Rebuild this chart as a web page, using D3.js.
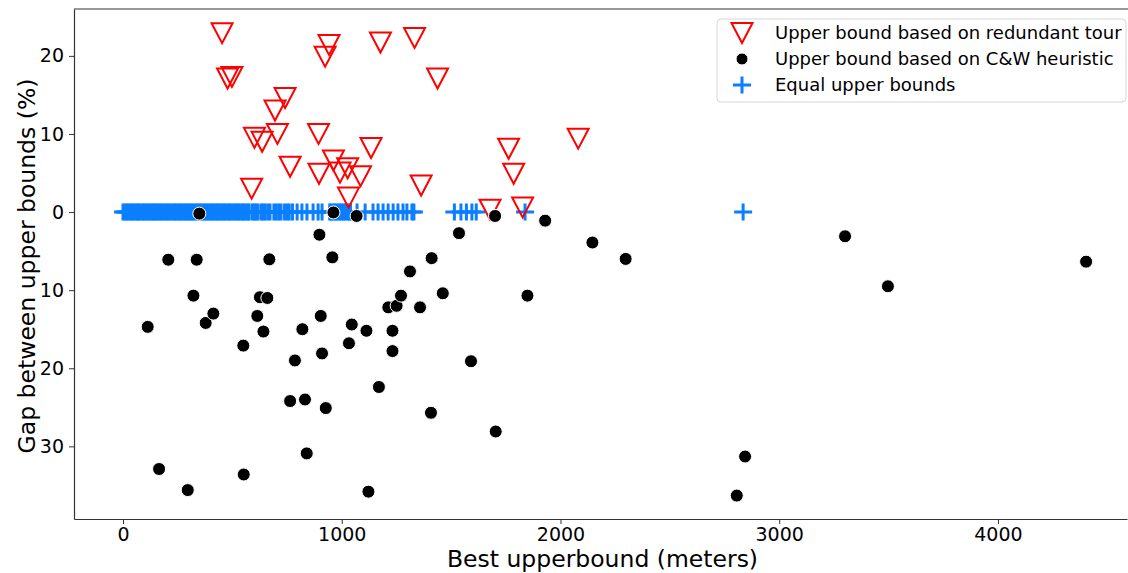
<!DOCTYPE html>
<html>
<head>
<meta charset="utf-8">
<script src="https://cdn.jsdelivr.net/npm/d3@7"></script>
<style>
  body { margin: 0; background: #fff; }
  svg { font-family: "DejaVu Sans", sans-serif; }
</style>
</head>
<body>
<div id="chart"></div>
<script>
// upper bound from redundant tour (red triangles)
var redX = [453, 478, 498, 601, 636, 588, 695, 741, 706, 764, 894, 896, 924, 942, 962,
            992, 1027, 1031, 1086, 1134, 1177, 1333, 1438, 1363, 1678, 1763, 1786, 1827, 2081];
var redY = [22.9, 17.1, 17.3, 9.5, 9.0, 3.0, 13.0, 14.6, 10.0, 5.8, 10.0, 4.9, 19.9, 21.4, 6.6,
            5.05, 5.6, 1.85, 4.6, 8.2, 21.7, 22.3, 17.1, 3.4, 0.3, 8.1, 4.9, 0.6, 9.4];

// upper bound from C&W heuristic (black dots)
var blackX = [349, 962, 1068, 898, 207, 337, 669, 957, 1701, 1930, 1536, 2146, 2298, 1411, 1312,
              3301, 4403, 3497, 113, 322, 378, 413, 550, 614, 626, 660, 642, 820, 904, 786,
              910, 1046, 1033, 1113, 764, 832, 927, 840, 165, 296, 552, 1122, 1170, 1213, 1251,
              1271, 1358, 1462, 1849, 1232, 1232, 1591, 1408, 1704, 2844, 2806];
var blackY = [-0.2, -0.05, -0.5, -2.9, -6.1, -6.1, -6.05, -5.8, -0.5, -1.1, -2.7, -3.9, -6.0, -5.9, -7.6,
              -3.1, -6.35, -9.5, -14.7, -10.7, -14.2, -13.0, -17.1, -13.3, -10.9, -11.0, -15.3, -15.0, -13.3, -19.0,
              -18.1, -14.4, -16.8, -15.2, -24.2, -24.0, -25.1, -30.9, -32.9, -35.6, -33.6, -35.8, -22.4, -12.2, -12.0,
              -10.7, -12.2, -10.4, -10.7, -15.2, -17.8, -19.1, -25.7, -28.1, -31.3, -36.3];

// equal upper bounds (blue pluses, gap 0)
var blueX = [0, 9, 17, 24, 33, 41, 48, 57, 66, 72, 81, 90, 97, 105, 114, 121, 130, 138, 146, 153,
             162, 171, 178, 186, 195, 203, 210, 219, 228, 235, 243, 252, 260, 267, 276, 285, 292, 300,
             309, 317, 324, 333, 342, 349, 357, 366, 374, 381, 390, 399, 406, 414, 423, 431, 438, 447,
             456, 463, 471, 480, 488, 495, 504, 513, 520, 528, 537, 545, 552, 561, 570, 577, 592, 601,
             609, 618, 633, 641, 650, 662, 672, 690, 700, 712, 722, 738, 750, 760, 775, 796, 818, 841,
             869, 892, 910, 945, 952, 960, 968, 975, 984, 992, 1000, 1008, 1016, 1025, 1033, 1040,
             1070, 1107, 1143, 1166, 1189, 1212, 1235, 1257, 1280, 1298, 1321, 1330,
             1515, 1545, 1570, 1595, 1615, 1838, 2835];

var xTicks = [0, 1000, 2000, 3000, 4000];
var yTicks = [20, 10, 0, -10, -20, -30];
var legendLabels = ["Upper bound based on redundant tour", "Upper bound based on C&W heuristic", "Equal upper bounds"];

var W = 1128, H = 573;
var margin = {top: 9, right: 1, bottom: 54, left: 74};

var x = d3.scaleLinear().domain([-224, 4590]).range([margin.left, W - margin.right]);
var y = d3.scaleLinear().domain([26, -39.3]).range([margin.top, H - margin.bottom]);

var svg = d3.select("#chart").append("svg")
    .attr("width", W)
    .attr("height", H);

var triPath = "M-10.5,-10L10.5,-10L0,10Z";
var plusPath = "M-9,0H9M0,-8.5V8.5";

// blue pluses
svg.append("g").selectAll("path")
  .data(blueX)
  .join("path")
    .attr("transform", function(d) { return "translate(" + x(d) + "," + y(0) + ")"; })
    .attr("d", plusPath)
    .attr("fill", "none")
    .attr("stroke", "#0a7fff")
    .attr("stroke-width", 3);

// red triangles
svg.append("g").selectAll("path")
  .data(redX)
  .join("path")
    .attr("transform", function(d, i) { return "translate(" + x(d) + "," + y(redY[i]) + ")"; })
    .attr("d", triPath)
    .attr("fill", "none")
    .attr("stroke", "#ff0000")
    .attr("stroke-width", 2);

// black dots
svg.append("g").selectAll("circle")
  .data(blackX)
  .join("circle")
    .attr("cx", function(d) { return x(d); })
    .attr("cy", function(d, i) { return y(blackY[i]); })
    .attr("r", 6.5)
    .attr("fill", "#000")
    .attr("stroke", "#fff")
    .attr("stroke-width", 1);

// axes
var xAxis = svg.append("g")
    .attr("transform", "translate(0," + (H - margin.bottom) + ")")
    .call(d3.axisBottom(x).tickValues(xTicks).tickSize(5).tickSizeOuter(0).tickPadding(4)
      .tickFormat(d3.format("d")));
var yAxis = svg.append("g")
    .attr("transform", "translate(" + margin.left + ",0)")
    .call(d3.axisLeft(y).tickValues(yTicks).tickSize(5).tickSizeOuter(0).tickPadding(5)
      .tickFormat(function(d) { return Math.abs(d); }));

[xAxis, yAxis].forEach(function(a) {
  a.selectAll("text").attr("font-size", 19).attr("font-family", "DejaVu Sans").attr("fill", "#000");
  a.selectAll("line").attr("stroke", "#333");
  a.select(".domain").attr("stroke", "#333").attr("stroke-width", 1.2);
});

// top spine
svg.append("line")
    .attr("x1", margin.left).attr("x2", W)
    .attr("y1", margin.top).attr("y2", margin.top)
    .attr("stroke", "#333").attr("stroke-width", 1.2);

// axis labels
svg.append("text")
    .attr("x", (x(-224) + x(4590)) / 2 + 2)
    .attr("y", 567)
    .attr("text-anchor", "middle")
    .attr("font-size", 23.5)
    .text("Best upperbound (meters)");

svg.append("text")
    .attr("transform", "translate(35," + ((margin.top + H - margin.bottom) / 2 + 2) + ") rotate(-90)")
    .attr("text-anchor", "middle")
    .attr("font-size", 23.5)
    .text("Gap between upper bounds (%)");

// legend
var lg = svg.append("g").attr("transform", "translate(717,19)");
lg.append("rect")
    .attr("width", 409).attr("height", 83)
    .attr("rx", 4)
    .attr("fill", "#fff").attr("fill-opacity", 0.8)
    .attr("stroke", "#d6d6d6");

var rows = lg.selectAll("g.row")
  .data(legendLabels)
  .join("g")
    .attr("class", "row")
    .attr("transform", function(d, i) { return "translate(25," + (14 + i * 26) + ")"; });

rows.append("text")
    .attr("x", 33)
    .attr("dy", "0.35em")
    .attr("font-size", 18)
    .text(function(d) { return d; });

rows.filter(function(d, i) { return i === 0; }).append("path")
    .attr("d", triPath).attr("fill", "none").attr("stroke", "#ff0000").attr("stroke-width", 2);
rows.filter(function(d, i) { return i === 1; }).append("circle")
    .attr("r", 6).attr("fill", "#000").attr("stroke", "#fff");
rows.filter(function(d, i) { return i === 2; }).append("path")
    .attr("d", plusPath).attr("fill", "none").attr("stroke", "#0a7fff").attr("stroke-width", 3);
</script>
</body>
</html>
